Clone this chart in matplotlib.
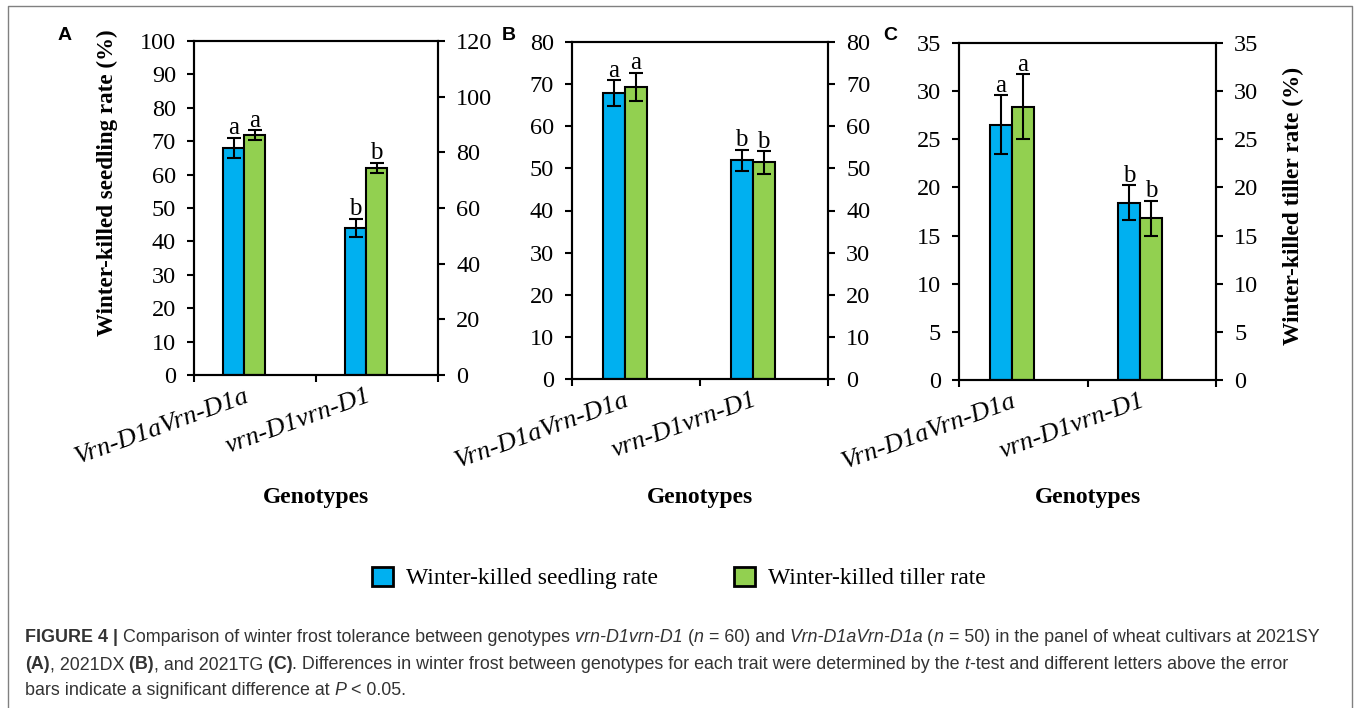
import numpy as np
import matplotlib.pyplot as plt
from matplotlib.patches import Patch
from matplotlib.lines import Line2D

genotypes = ['Vrn-D1aVrn-D1a', 'vrn-D1vrn-D1']
letters = ['a', 'b']

# A - 2021SY
seedling_a = [68.0, 44.0]
seedling_err_a = [3.1, 2.8]
tiller_a = [71.8, 62.0]
tiller_err_a = [1.5, 1.5]

# B - 2021DX
seedling_b = [67.9, 51.9]
seedling_err_b = [3.0, 2.5]
tiller_b = [69.4, 51.4]
tiller_err_b = [3.3, 2.65]

# C - 2021TG
seedling_c = [26.5, 18.4]
seedling_err_c = [3.07, 1.82]
tiller_c = [28.4, 16.8]
tiller_err_c = [3.35, 1.84]

blue = '#00b0f0'
green = '#92d050'

plt.rcParams['font.family'] = 'Liberation Serif'
plt.rcParams['axes.linewidth'] = 1.5


def draw_panel(ax, seed, seed_err, till, till_err, ymax, ystep, ymax2, ystep2):
    x = np.arange(len(genotypes))
    ekw = dict(ecolor='black', elinewidth=1.5, capsize=5, capthick=1.5)
    ax.bar(x - 0.175, seed, 0.172, yerr=seed_err, color=blue, edgecolor='black',
           linewidth=1.5, error_kw=ekw, zorder=2)
    ax.bar(x - 0.003, till, 0.172, yerr=till_err, color=green, edgecolor='black',
           linewidth=1.5, error_kw=ekw, zorder=2)
    for xs, vals, errs in [(x - 0.175, seed, seed_err), (x - 0.003, till, till_err)]:
        for xi, v, e, l in zip(xs, vals, errs, letters):
            ax.annotate(l, (xi, v + e), xytext=(0, -1), textcoords='offset points',
                        ha='center', va='bottom', fontsize=18)
    ax.set_xlim(-0.5, 1.5)
    ax.set_ylim(0, ymax)
    ax.set_yticks(np.arange(0, ymax + 1, ystep))
    ax.set_xticks(x - 0.09)
    ax.set_xticklabels(genotypes, rotation=20, ha='right', va='top',
                       rotation_mode='anchor', style='italic', fontsize=19)
    ax.tick_params(axis='x', which='major', length=0, pad=7)
    ax.set_xticks([-0.5, 0.5, 1.5], minor=True)
    ax.tick_params(axis='x', which='minor', length=5, width=1.5, direction='out')
    ax.tick_params(axis='y', length=5, width=1.5, labelsize=17.5, pad=8)
    ax2 = ax.twinx()
    ax2.set_ylim(0, ymax2)
    ax2.set_yticks(np.arange(0, ymax2 + 1, ystep2))
    ax2.tick_params(axis='y', length=5, width=1.5, labelsize=17.5, pad=8)
    return ax2


fig = plt.figure(figsize=(13.6, 7.08), dpi=100)

ax_a = fig.add_axes([194 / 1360, 333 / 708, 244 / 1360, 334 / 708])
ax_b = fig.add_axes([572 / 1360, 329 / 708, 256 / 1360, 337 / 708])
ax_c = fig.add_axes([959 / 1360, 328 / 708, 257 / 1360, 337 / 708])

draw_panel(ax_a, seedling_a, seedling_err_a, tiller_a, tiller_err_a, 100, 10, 120, 20)
draw_panel(ax_b, seedling_b, seedling_err_b, tiller_b, tiller_err_b, 80, 10, 80, 10)
ax_c2 = draw_panel(ax_c, seedling_c, seedling_err_c, tiller_c, tiller_err_c, 35, 5, 35, 5)

ax_a.set_ylabel('Winter-killed seedling rate (%)', fontsize=16.6, weight='bold')
ax_a.yaxis.set_label_coords(-0.31, 0.575)
ax_c2.set_ylabel('Winter-killed tiller rate (%)', fontsize=16.8, weight='bold')
ax_c2.yaxis.set_label_coords(1.26, 0.516)

for ax in [ax_a, ax_b, ax_c]:
    bb = ax.get_position()
    fig.text(bb.x0 + bb.width / 2, 1 - 497 / 708, 'Genotypes', ha='center', va='center',
             fontsize=17, weight='bold')
for xp, letter in [(65, 'A'), (509, 'B'), (890, 'C')]:
    fig.text(xp / 1360, 1 - 35 / 708, letter, ha='center', va='center', fontsize=14,
             weight='bold', family='Liberation Sans')

handles = [Patch(facecolor=blue, edgecolor='black', linewidth=2, label='Winter-killed seedling rate'),
           Patch(facecolor=green, edgecolor='black', linewidth=2, label='Winter-killed tiller rate')]
fig.legend(handles=handles, loc='center', bbox_to_anchor=(0.499, 1 - 578 / 708), ncol=2,
           frameon=False, fontsize=17, handlelength=0.9, handleheight=0.9,
           handletextpad=0.55, columnspacing=3.2)

# caption, drawn piece by piece
caption = [
    [('FIGURE 4 |', 'bold', 'normal'),
     (' Comparison of winter frost tolerance between genotypes', 'normal', 'normal'),
     (' vrn-D1vrn-D1', 'normal', 'italic'), (' (', 'normal', 'normal'),
     ('n', 'normal', 'italic'), (' = 60) and', 'normal', 'normal'),
     (' Vrn-D1aVrn-D1a', 'normal', 'italic'), (' (', 'normal', 'normal'),
     ('n', 'normal', 'italic'),
     (' = 50) in the panel of wheat cultivars at 2021SY', 'normal', 'normal')],
    [('(A)', 'bold', 'normal'), (', 2021DX', 'normal', 'normal'), (' (B)', 'bold', 'normal'),
     (', and 2021TG', 'normal', 'normal'), (' (C)', 'bold', 'normal'),
     ('. Differences in winter frost between genotypes for each trait were determined by the',
      'normal', 'normal'),
     (' t', 'normal', 'italic'),
     ('-test and different letters above the error', 'normal', 'normal')],
    [('bars indicate a significant difference at', 'normal', 'normal'),
     (' P', 'normal', 'italic'), (' < 0.05.', 'normal', 'normal')],
]
renderer = fig.canvas.get_renderer()
for line, ybase in zip(caption, [642, 669, 695]):
    xpos = 25 / 1360
    for s, w, st in line:
        t = fig.text(xpos, 1 - ybase / 708, s, fontsize=12.9, weight=w, style=st,
                     family='Liberation Sans', color='#333333', va='baseline')
        xpos += t.get_window_extent(renderer=renderer).width / fig.bbox.width

# outer frame
fig.add_artist(Line2D([8 / 1360, 8 / 1360, 1352 / 1360, 1352 / 1360],
                      [0, 1 - 6 / 708, 1 - 6 / 708, 0], transform=fig.transFigure,
                      color='#808080', linewidth=1))

fig.savefig('out.png', dpi=100)
